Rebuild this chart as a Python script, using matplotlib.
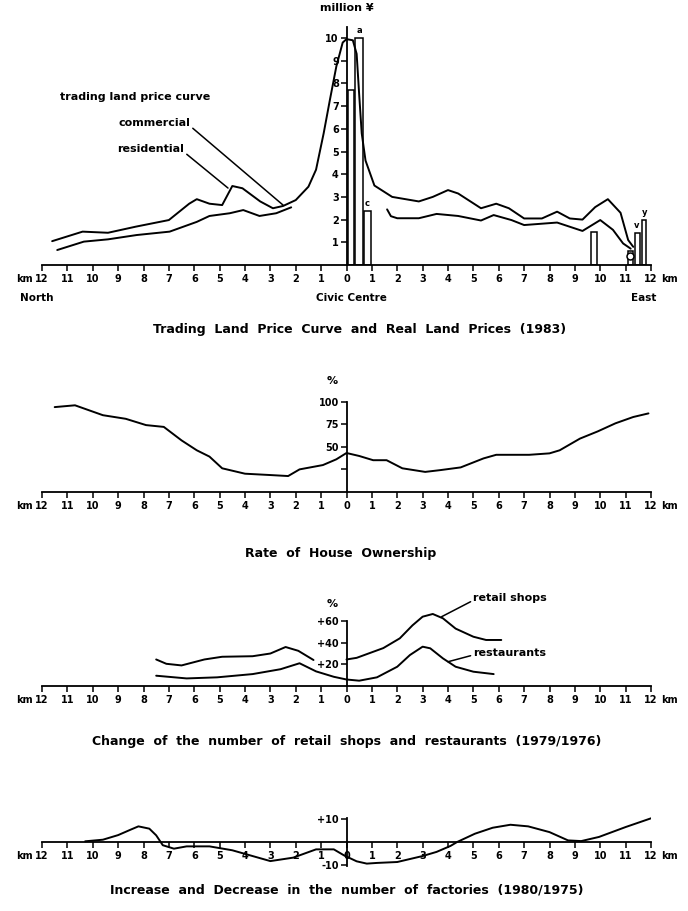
import matplotlib
matplotlib.use("Agg")
import matplotlib.pyplot as plt

plt.rcParams['font.family'] = ['DejaVu Sans', 'Noto Sans CJK JP']
plt.rcParams['lines.solid_joinstyle'] = 'round'
plt.rcParams['lines.solid_capstyle'] = 'round'

# distance from the Civic Centre in km (negative = north side, positive = east side)
km_ticks = list(range(-12, 13))

# --- trading land price curve (million yen) ---
com_x = [-11.6, -10.4, -9.4, -8.3, -7.0, -6.2, -5.9, -5.4, -4.9, -4.5, -4.1, -3.4,
         -2.9, -2.5, -2.0, -1.5, -1.2, -0.9, -0.65, -0.4, -0.15, 0.0, 0.25, 0.4,
         0.5, 0.6, 0.75, 1.1, 1.8, 2.85, 3.4, 4.0, 4.4, 5.3, 5.9, 6.4, 7.0, 7.7,
         8.3, 8.8, 9.3, 9.8, 10.3, 10.8, 11.1, 11.3]
com_y = [1.05, 1.47, 1.42, 1.69, 1.98, 2.7, 2.9, 2.7, 2.64, 3.48, 3.38, 2.8,
         2.5, 2.6, 2.86, 3.45, 4.2, 5.8, 7.3, 8.75, 9.8, 9.95, 9.9, 9.3,
         7.5, 5.8, 4.6, 3.5, 3.0, 2.8, 3.0, 3.3, 3.15, 2.5, 2.7, 2.5, 2.05, 2.05,
         2.35, 2.05, 2.0, 2.55, 2.9, 2.3, 1.1, 0.8]
res_l_x = [-11.4, -10.35, -9.4, -8.27, -6.97, -5.9, -5.4, -4.6, -4.07, -3.43, -2.77, -2.18]
res_l_y = [0.66, 1.03, 1.13, 1.32, 1.47, 1.9, 2.16, 2.28, 2.42, 2.16, 2.28, 2.54]
res_r_x = [1.6, 1.75, 2.0, 2.85, 3.55, 4.4, 5.3, 5.8, 6.5, 7.0, 8.3, 9.3, 10.0, 10.5, 10.9, 11.2]
res_r_y = [2.45, 2.15, 2.06, 2.06, 2.25, 2.16, 1.96, 2.2, 1.98, 1.76, 1.87, 1.5, 1.98, 1.55, 0.95, 0.72]

# real land prices (bars)
bar_x = [0.17, 0.5, 0.83, 9.76, 11.2, 11.45, 11.73]
bar_w = [0.25, 0.32, 0.26, 0.22, 0.2, 0.2, 0.16]
bar_h = [7.7, 10.0, 2.4, 1.45, 0.6, 1.4, 2.0]
bar_tag = ['', 'a', 'c', '', '', 'v', 'y']

# --- rate of house ownership (%) ---
own_x = [-11.5, -10.7, -9.6, -8.7, -7.9, -7.2, -6.5, -5.9, -5.4, -4.9, -4.0, -3.0,
         -2.3, -1.85, -0.93, -0.4, 0.0, 0.5, 1.05, 1.58, 2.2, 3.1, 3.7, 4.5,
         5.4, 5.9, 7.2, 8.0, 8.4, 9.2, 9.9, 10.6, 11.3, 11.9]
own_y = [94, 96, 85, 81, 74, 72, 57, 46, 39, 26, 20, 18.5,
         17.4, 24.8, 29.6, 36, 43, 39.7, 35, 35, 26, 22, 24, 27,
         37, 41, 41, 42.6, 46, 59, 67, 76, 83, 87]

# --- change of the number of retail shops and restaurants (%) ---
retail_l_x = [-7.5, -7.1, -6.5, -5.6, -4.9, -3.7, -3.0, -2.4, -1.9, -1.3]
retail_l_y = [24.5, 20.5, 19, 24.5, 27, 27.5, 30, 36, 32.5, 24]
retail_r_x = [0.0, 0.4, 1.45, 2.1, 2.6, 3.0, 3.4, 3.8, 4.3, 5.0, 5.5, 6.1]
retail_r_y = [24.5, 26, 35, 44, 56, 64, 66.5, 62.5, 53, 45.5, 42.5, 42.5]
rest_x = [-7.5, -6.3, -5.1, -3.7, -2.6, -1.85, -1.2, -0.5, 0.0, 0.5, 1.2, 2.0,
          2.5, 3.0, 3.3, 3.8, 4.3, 5.0, 5.8]
rest_y = [9.5, 7, 8, 11, 15.5, 21, 13.5, 8.5, 6, 4.9, 8, 17.8,
          28.6, 36.3, 34.8, 25.5, 17.8, 13.2, 11]

# --- increase and decrease in the number of factories ---
fac_x = [-10.3, -9.6, -9.0, -8.5, -8.2, -7.77, -7.5, -7.24, -6.8, -6.3, -5.4, -4.5,
         -3.8, -3.0, -2.1, -1.2, -0.5, -0.1, 0.4, 0.8, 1.2, 2.0, 3.0, 3.55,
         4.1, 4.36, 5.06, 5.76, 6.46, 7.16, 8.0, 8.73, 9.25, 9.95, 11.0, 12.0]
fac_y = [0.3, 1.0, 3.0, 5.4, 6.8, 5.8, 2.9, -1.4, -2.9, -1.9, -1.9, -3.6,
         -5.8, -8.3, -6.8, -3.2, -3.2, -5.8, -8.4, -9.4, -9.1, -8.7, -6.1, -4.3,
         -1.7, 0.0, 3.6, 6.2, 7.5, 6.8, 4.3, 0.7, 0.4, 2.2, 6.5, 10.3]

W, H = 688, 911
LEFT, RIGHT = 42, 651
LW = 1.4

fig = plt.figure(figsize=(W / 100, H / 100), dpi=100)


def make_axes(base_px, px_per_unit, ylo, yhi):
    bottom_px = base_px - ylo * px_per_unit
    height_px = (yhi - ylo) * px_per_unit
    ax = fig.add_axes([LEFT / W, 1 - bottom_px / H, (RIGHT - LEFT) / W, height_px / H])
    ax.set_xlim(-12, 12)
    ax.set_ylim(ylo, yhi)
    ax.patch.set_visible(False)
    return ax


def style_axes(ax, spine_lo, spine_hi, yticks, ylabels):
    ax.spines['top'].set_visible(False)
    ax.spines['right'].set_visible(False)
    ax.spines['left'].set_position(('data', 0))
    ax.spines['bottom'].set_position(('data', 0))
    ax.spines['left'].set_bounds(spine_lo, spine_hi)
    for s in ('left', 'bottom'):
        ax.spines[s].set_linewidth(1.3)
    ax.set_xticks(km_ticks)
    ax.set_xticklabels([str(abs(k)) for k in km_ticks], fontweight='bold')
    ax.set_yticks(yticks)
    ax.set_yticklabels(ylabels, fontweight='bold')
    ax.tick_params(axis='x', direction='out', length=4, width=1.1, pad=2.5, labelsize=7)
    ax.tick_params(axis='y', direction='out', length=4, width=1.1, pad=1.5, labelsize=7)
    for xk, ha, dx in ((-12, 'right', -7), (12, 'left', 7)):
        ax.annotate('km', xy=(xk, 0), xytext=(dx, -6.5), textcoords='offset points',
                    ha=ha, va='top', fontsize=7, fontweight='bold', annotation_clip=False)


# ---------------- panel 1 ----------------
ax1 = make_axes(265, 22.7, 0, 10.6)
style_axes(ax1, 0, 10.5, list(range(1, 11)), [str(v) for v in range(1, 11)])
ax1.bar(bar_x, bar_h, width=bar_w, fill=False, edgecolor='black', linewidth=1.1)
for bx, bh, tag in zip(bar_x, bar_h, bar_tag):
    if tag:
        ax1.text(bx, bh + 0.12, tag, ha='center', va='bottom', fontsize=6, fontweight='bold')
ax1.plot([11.17], [0.4], marker='o', ms=5, mfc='white', mec='black', mew=1.1)
ax1.plot(com_x, com_y, color='black', lw=LW)
ax1.plot(res_l_x, res_l_y, color='black', lw=LW)
ax1.plot(res_r_x, res_r_y, color='black', lw=LW)
ax1.text(-11.3, 7.4, 'trading land price curve', fontsize=8, fontweight='bold', va='center')
ax1.annotate('commercial', xy=(-2.5, 2.64), xytext=(-9.0, 6.26), fontsize=8,
             fontweight='bold', va='center',
             arrowprops=dict(arrowstyle='-', color='black', lw=1.1, shrinkA=0, shrinkB=0,
                             relpos=(1.0, 0.2)))
ax1.annotate('residential', xy=(-4.67, 3.39), xytext=(-9.04, 5.11), fontsize=8,
             fontweight='bold', va='center',
             arrowprops=dict(arrowstyle='-', color='black', lw=1.1, shrinkA=0, shrinkB=0,
                             relpos=(1.0, 0.2)))
ax1.annotate('million ¥', xy=(0, 10.5), xytext=(0.5, 10), textcoords='offset points',
             ha='center', va='bottom', fontsize=8, fontweight='bold')
ax1.annotate('North', xy=(-12, 0), xytext=(-4, -20), textcoords='offset points',
             ha='center', va='top', fontsize=7.5, fontweight='bold', annotation_clip=False)
ax1.annotate('Civic Centre', xy=(0.2, 0), xytext=(0, -20), textcoords='offset points',
             ha='center', va='top', fontsize=7.5, fontweight='bold')
ax1.annotate('East', xy=(11.7, 0), xytext=(0, -20), textcoords='offset points',
             ha='center', va='top', fontsize=7.5, fontweight='bold')

# ---------------- panel 2 ----------------
ax2 = make_axes(491.7, 0.9, 0, 106)
style_axes(ax2, 0, 100, [25, 50, 75, 100], ['', '50', '75', '100'])
ax2.plot(own_x, own_y, color='black', lw=LW)
ax2.annotate('%', xy=(0, 100), xytext=(-10, 11), textcoords='offset points',
             ha='center', va='bottom', fontsize=8, fontweight='bold')

# ---------------- panel 3 ----------------
ax3 = make_axes(686, 1.083, 0, 70)
style_axes(ax3, 0, 60, [20, 40, 60], ['+20', '+40', '+60'])
ax3.plot(retail_l_x, retail_l_y, color='black', lw=LW)
ax3.plot(retail_r_x, retail_r_y, color='black', lw=LW)
ax3.plot(rest_x, rest_y, color='black', lw=LW)
ax3.annotate('%', xy=(0, 60), xytext=(-10, 9), textcoords='offset points',
             ha='center', va='bottom', fontsize=8, fontweight='bold')
ax3.annotate('retail shops', xy=(3.75, 64), xytext=(5.0, 81), fontsize=8,
             fontweight='bold', va='center', annotation_clip=False,
             arrowprops=dict(arrowstyle='-', color='black', lw=1.1, shrinkA=0, shrinkB=0,
                             relpos=(0.0, 0.3)))
ax3.annotate('restaurants', xy=(4.0, 22.4), xytext=(5.0, 30.5), fontsize=8,
             fontweight='bold', va='center',
             arrowprops=dict(arrowstyle='-', color='black', lw=1.1, shrinkA=0, shrinkB=0,
                             relpos=(0.0, 0.3)))

# ---------------- panel 4 ----------------
ax4 = make_axes(842, 2.3, -11, 11)
style_axes(ax4, -10.5, 10.5, [-10, 10], ['-10', '+10'])
ax4.plot(fac_x, fac_y, color='black', lw=LW)

# titles
fig.text(360 / W, 1 - 330 / H, 'Trading  Land  Price  Curve  and  Real  Land  Prices  (1983)',
         ha='center', va='center', fontsize=9, fontweight='bold')
fig.text(341 / W, 1 - 553 / H, 'Rate  of  House  Ownership',
         ha='center', va='center', fontsize=9, fontweight='bold')
fig.text(347 / W, 1 - 742 / H,
         'Change  of  the  number  of  retail  shops  and  restaurants  (1979/1976)',
         ha='center', va='center', fontsize=9, fontweight='bold')
fig.text(347 / W, 1 - 890 / H,
         'Increase  and  Decrease  in  the  number  of  factories  (1980/1975)',
         ha='center', va='center', fontsize=9, fontweight='bold')

fig.savefig('out.png', dpi=100)
